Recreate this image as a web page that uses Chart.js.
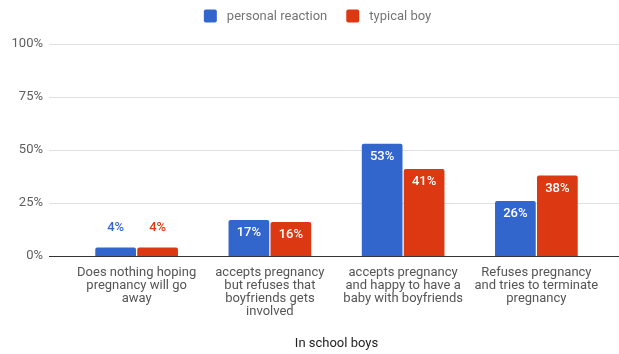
<!DOCTYPE html>
<html lang="en">
<head>
  <meta charset="UTF-8">
  <title>In school boys</title>
  <script src="https://cdn.jsdelivr.net/npm/chart.js"></script>
  <style>
    html, body {
      margin: 0;
      padding: 0;
      background: #fff;
    }
    #wrap {
      width: 619px;
      height: 354px;
    }
  </style>
</head>
<body>
  <div id="wrap"><canvas id="boysChart" width="619" height="354"></canvas></div>

  <script>
    const categories = [
      ['Does nothing hoping', 'pregnancy will go', 'away'],
      ['accepts pregnancy', 'but refuses that', 'boyfriends gets', 'involved'],
      ['accepts pregnancy', 'and happy to have a', 'baby with boyfriends'],
      ['Refuses pregnancy', 'and tries to terminate', 'pregnancy']
    ];
    const personalReaction = [4, 17, 53, 26];
    const typicalBoy = [4, 16, 41, 38];
    const yTicks = [0, 25, 50, 75, 100];

    const FONT = 'Roboto, Arial, sans-serif';

    // horizontal grid lines run the full width, past the category bands
    const wideGrid = {
      id: 'wideGrid',
      beforeDatasetsDraw(chart) {
        const y = chart.scales.y;
        const ctx = chart.ctx;
        ctx.save();
        y.ticks.forEach(t => {
          const py = Math.round(y.getPixelForValue(t.value)) + 0.5;
          ctx.strokeStyle = t.value === 0 ? '#333333' : '#e0e0e0';
          ctx.lineWidth = 1;
          ctx.beginPath();
          ctx.moveTo(49, py);
          ctx.lineTo(chart.width, py);
          ctx.stroke();
        });
        ctx.restore();
      }
    };

    // value labels: inside the bar top in white, above short bars in series colour
    const valueLabels = {
      id: 'valueLabels',
      afterDatasetsDraw(chart) {
        const ctx = chart.ctx;
        ctx.save();
        ctx.font = '500 13px ' + FONT;
        ctx.textAlign = 'center';
        ctx.textBaseline = 'middle';
        chart.data.datasets.forEach((ds, i) => {
          chart.getDatasetMeta(i).data.forEach((bar, j) => {
            const text = ds.data[j] + '%';
            const h = bar.base - bar.y;
            if (h > 24) {
              ctx.fillStyle = '#ffffff';
              ctx.fillText(text, bar.x, bar.y + 13);
            } else {
              ctx.fillStyle = ds.backgroundColor;
              ctx.fillText(text, bar.x, bar.y - 20);
            }
          });
        });
        ctx.restore();
      }
    };

    // legend row at the top, centred a little right of the canvas middle
    const topLegend = {
      id: 'topLegend',
      afterDraw(chart) {
        const ctx = chart.ctx;
        const box = 13, gap = 10, between = 19, cy = 16;
        ctx.save();
        ctx.font = '13px ' + FONT;
        ctx.textBaseline = 'middle';
        const items = chart.data.datasets.map(ds => ({
          text: ds.label,
          color: ds.backgroundColor,
          w: ctx.measureText(ds.label).width
        }));
        let total = items.reduce((s, it) => s + box + gap + it.w, 0) + between * (items.length - 1);
        let x = 317.5 - total / 2;
        items.forEach(it => {
          ctx.fillStyle = it.color;
          ctx.beginPath();
          ctx.roundRect(x, cy - box / 2, box, box, 2);
          ctx.fill();
          ctx.fillStyle = '#757575';
          ctx.fillText(it.text, x + box + gap, cy + 1);
          x += box + gap + it.w + between;
        });
        ctx.restore();
      }
    };

    new Chart(document.getElementById('boysChart'), {
      type: 'bar',
      data: {
        labels: categories,
        datasets: [
          {
            label: 'personal reaction',
            data: personalReaction,
            backgroundColor: '#3366cc',
            borderRadius: { topLeft: 2, topRight: 2 },
            borderSkipped: 'bottom',
            categoryPercentage: 0.63,
            barPercentage: 0.97
          },
          {
            label: 'typical boy',
            data: typicalBoy,
            backgroundColor: '#dc3912',
            borderRadius: { topLeft: 2, topRight: 2 },
            borderSkipped: 'bottom',
            categoryPercentage: 0.63,
            barPercentage: 0.97
          }
        ]
      },
      options: {
        responsive: false,
        animation: false,
        layout: { padding: { top: 44, right: 16, left: 0, bottom: 0 } },
        plugins: {
          legend: { display: false },
          tooltip: { enabled: false }
        },
        scales: {
          x: {
            grid: { display: false },
            border: { display: false },
            ticks: {
              color: '#555555',
              padding: 2,
              maxRotation: 0,
              autoSkip: false,
              font: { family: FONT, size: 13, lineHeight: 1.0 }
            },
            title: {
              display: true,
              text: 'In school boys',
              color: '#222222',
              padding: { top: 4, bottom: 2 },
              font: { family: FONT, size: 13 }
            },
            afterFit(scale) { scale.height = 98; }
          },
          y: {
            min: 0,
            max: 100,
            afterBuildTicks(scale) {
              scale.ticks = yTicks.map(v => ({ value: v }));
            },
            grid: { display: false, drawTicks: false },
            border: { display: false },
            ticks: {
              color: '#5f5f5f',
              padding: 27,
              font: { family: FONT, size: 13 },
              callback: v => v + '%'
            },
            afterFit(scale) { scale.width = 70; }
          }
        }
      },
      plugins: [wideGrid, valueLabels, topLegend]
    });
  </script>
</body>
</html>
